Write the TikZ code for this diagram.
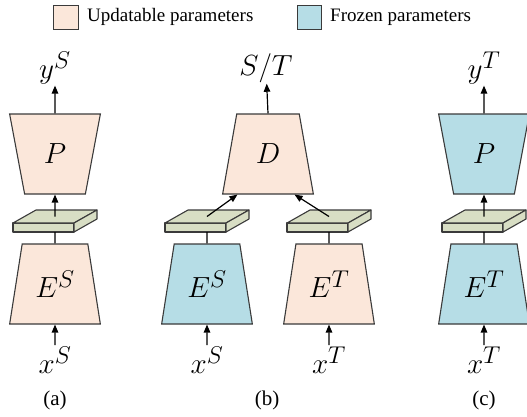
\documentclass[tikz,border=0pt]{standalone}
\usepackage{fontspec}
\setmainfont{Liberation Serif}
\usepackage{tikz}
\usetikzlibrary{shapes.geometric,arrows.meta,positioning,calc}
\definecolor{DAPeach}{HTML}{FBE7DA}
\definecolor{DABlue} {HTML}{B6DDE6}
\definecolor{DASlab} {HTML}{D8DEC4}
\definecolor{DALine} {HTML}{3A3A3A}

% big math labels (cm math only comes up to 24.88pt)
\newcommand{\mlab}[1]{\scalebox{1.17}{\fontsize{24.88}{30}\selectfont$#1$}}

\tikzset{
  block/.style={trapezium,trapezium angle=74.5,trapezium stretches=true,
    minimum width=91pt,minimum height=80pt,inner sep=0pt,
    draw=DALine,line width=1.1pt},
  upd/.style={block,fill=DAPeach},
  frz/.style={block,fill=DABlue},
  widetop/.style={shape border rotate=180},
  lbl/.style={inner sep=1pt},
  subcap/.style={font=\fontsize{21}{24}\selectfont},
  legtext/.style={anchor=west,inner sep=0pt,font=\fontsize{19}{22}\selectfont},
  flow/.style={-{Triangle[length=8pt,width=6.5pt]},line width=1.2pt},
  slabface/.style={fill=DASlab,draw=DALine,line width=1.1pt,line join=round}
}

% feature slab: name, x of centre
\newcommand{\featslab}[2]{%
  \draw[slabface] (#2-42,223) rectangle (#2+19,232);
  \draw[slabface] (#2-42,223) -- (#2+19,223) -- (#2+42,210) -- (#2-19,210) -- cycle;
  \draw[slabface] (#2+19,223) -- (#2+42,210) -- (#2+42,219) -- (#2+19,232) -- cycle;
  \coordinate (#1-top) at (#2,216.5);
  \coordinate (#1-bot) at (#2,232);
}

\begin{document}
\begin{tikzpicture}[x=1pt,y=-1pt]
  \useasboundingbox (0,0) rectangle (527,416);

  % legend
  \node[draw=DALine,line width=1pt,fill=DAPeach,minimum width=25pt,minimum height=24pt,inner sep=0pt]
    (lgupd) at (65.5,17) {};
  \node[legtext] (lgupdtxt) at (87,17) {Updatable parameters};
  \node[draw=DALine,line width=1pt,fill=DABlue,minimum width=24pt,minimum height=24pt,inner sep=0pt]
    (lgfrz) at (309.5,17) {};
  \node[legtext] (lgfrztxt) at (330,17) {Frozen parameters};

  % (a)
  \node[upd,widetop] (pa) at (55,154) {\mlab{P}};
  \featslab{sa}{55}
  \node[upd] (ea) at (55,284) {\mlab{E^S}};
  \node[lbl] (ya) at (55,68) {\mlab{y^S}};
  \node[lbl] (xa) at (55,360) {\mlab{x^S}};
  \node[subcap] (capa) at (55,400) {(a)};
  \draw[flow] (xa) -- (ea.south);
  \draw[line width=1.2pt] (ea.north) -- (sa-bot);
  \draw[flow] (sa-top) -- (pa.south);
  \draw[flow] (pa.north) -- (ya);

  % (b)
  \node[upd] (dd) at (268,154) {\mlab{D}};
  \featslab{sbl}{207}
  \featslab{sbr}{329}
  \node[frz] (ebs) at (207,284) {\mlab{E^S}};
  \node[upd] (ebt) at (329,284) {\mlab{E^T}};
  \node[lbl] (st) at (266,68) {\mlab{S/T}};
  \node[lbl] (xbs) at (207,360) {\mlab{x^S}};
  \node[lbl] (xbt) at (329,360) {\mlab{x^T}};
  \node[subcap] (capb) at (267,400) {(b)};
  \draw[flow] (xbs) -- (ebs.south);
  \draw[flow] (xbt) -- (ebt.south);
  \draw[line width=1.2pt] (ebs.north) -- (sbl-bot);
  \draw[line width=1.2pt] (ebt.north) -- (sbr-bot);
  \draw[flow] (sbl-top) -- ([xshift=10pt]dd.south west);
  \draw[flow] (sbr-top) -- ([xshift=-14pt]dd.south east);
  \draw[flow] (dd.north) -- (st);

  % (c)
  \node[frz,widetop] (pc) at (484,154) {\mlab{P}};
  \featslab{sc}{484}
  \node[frz] (ec) at (484,284) {\mlab{E^T}};
  \node[lbl] (yc) at (484,68) {\mlab{y^T}};
  \node[lbl] (xc) at (484,360) {\mlab{x^T}};
  \node[subcap] (capc) at (484,400) {(c)};
  \draw[flow] (xc) -- (ec.south);
  \draw[line width=1.2pt] (ec.north) -- (sc-bot);
  \draw[flow] (sc-top) -- (pc.south);
  \draw[flow] (pc.north) -- (yc);
\end{tikzpicture}
\end{document}
